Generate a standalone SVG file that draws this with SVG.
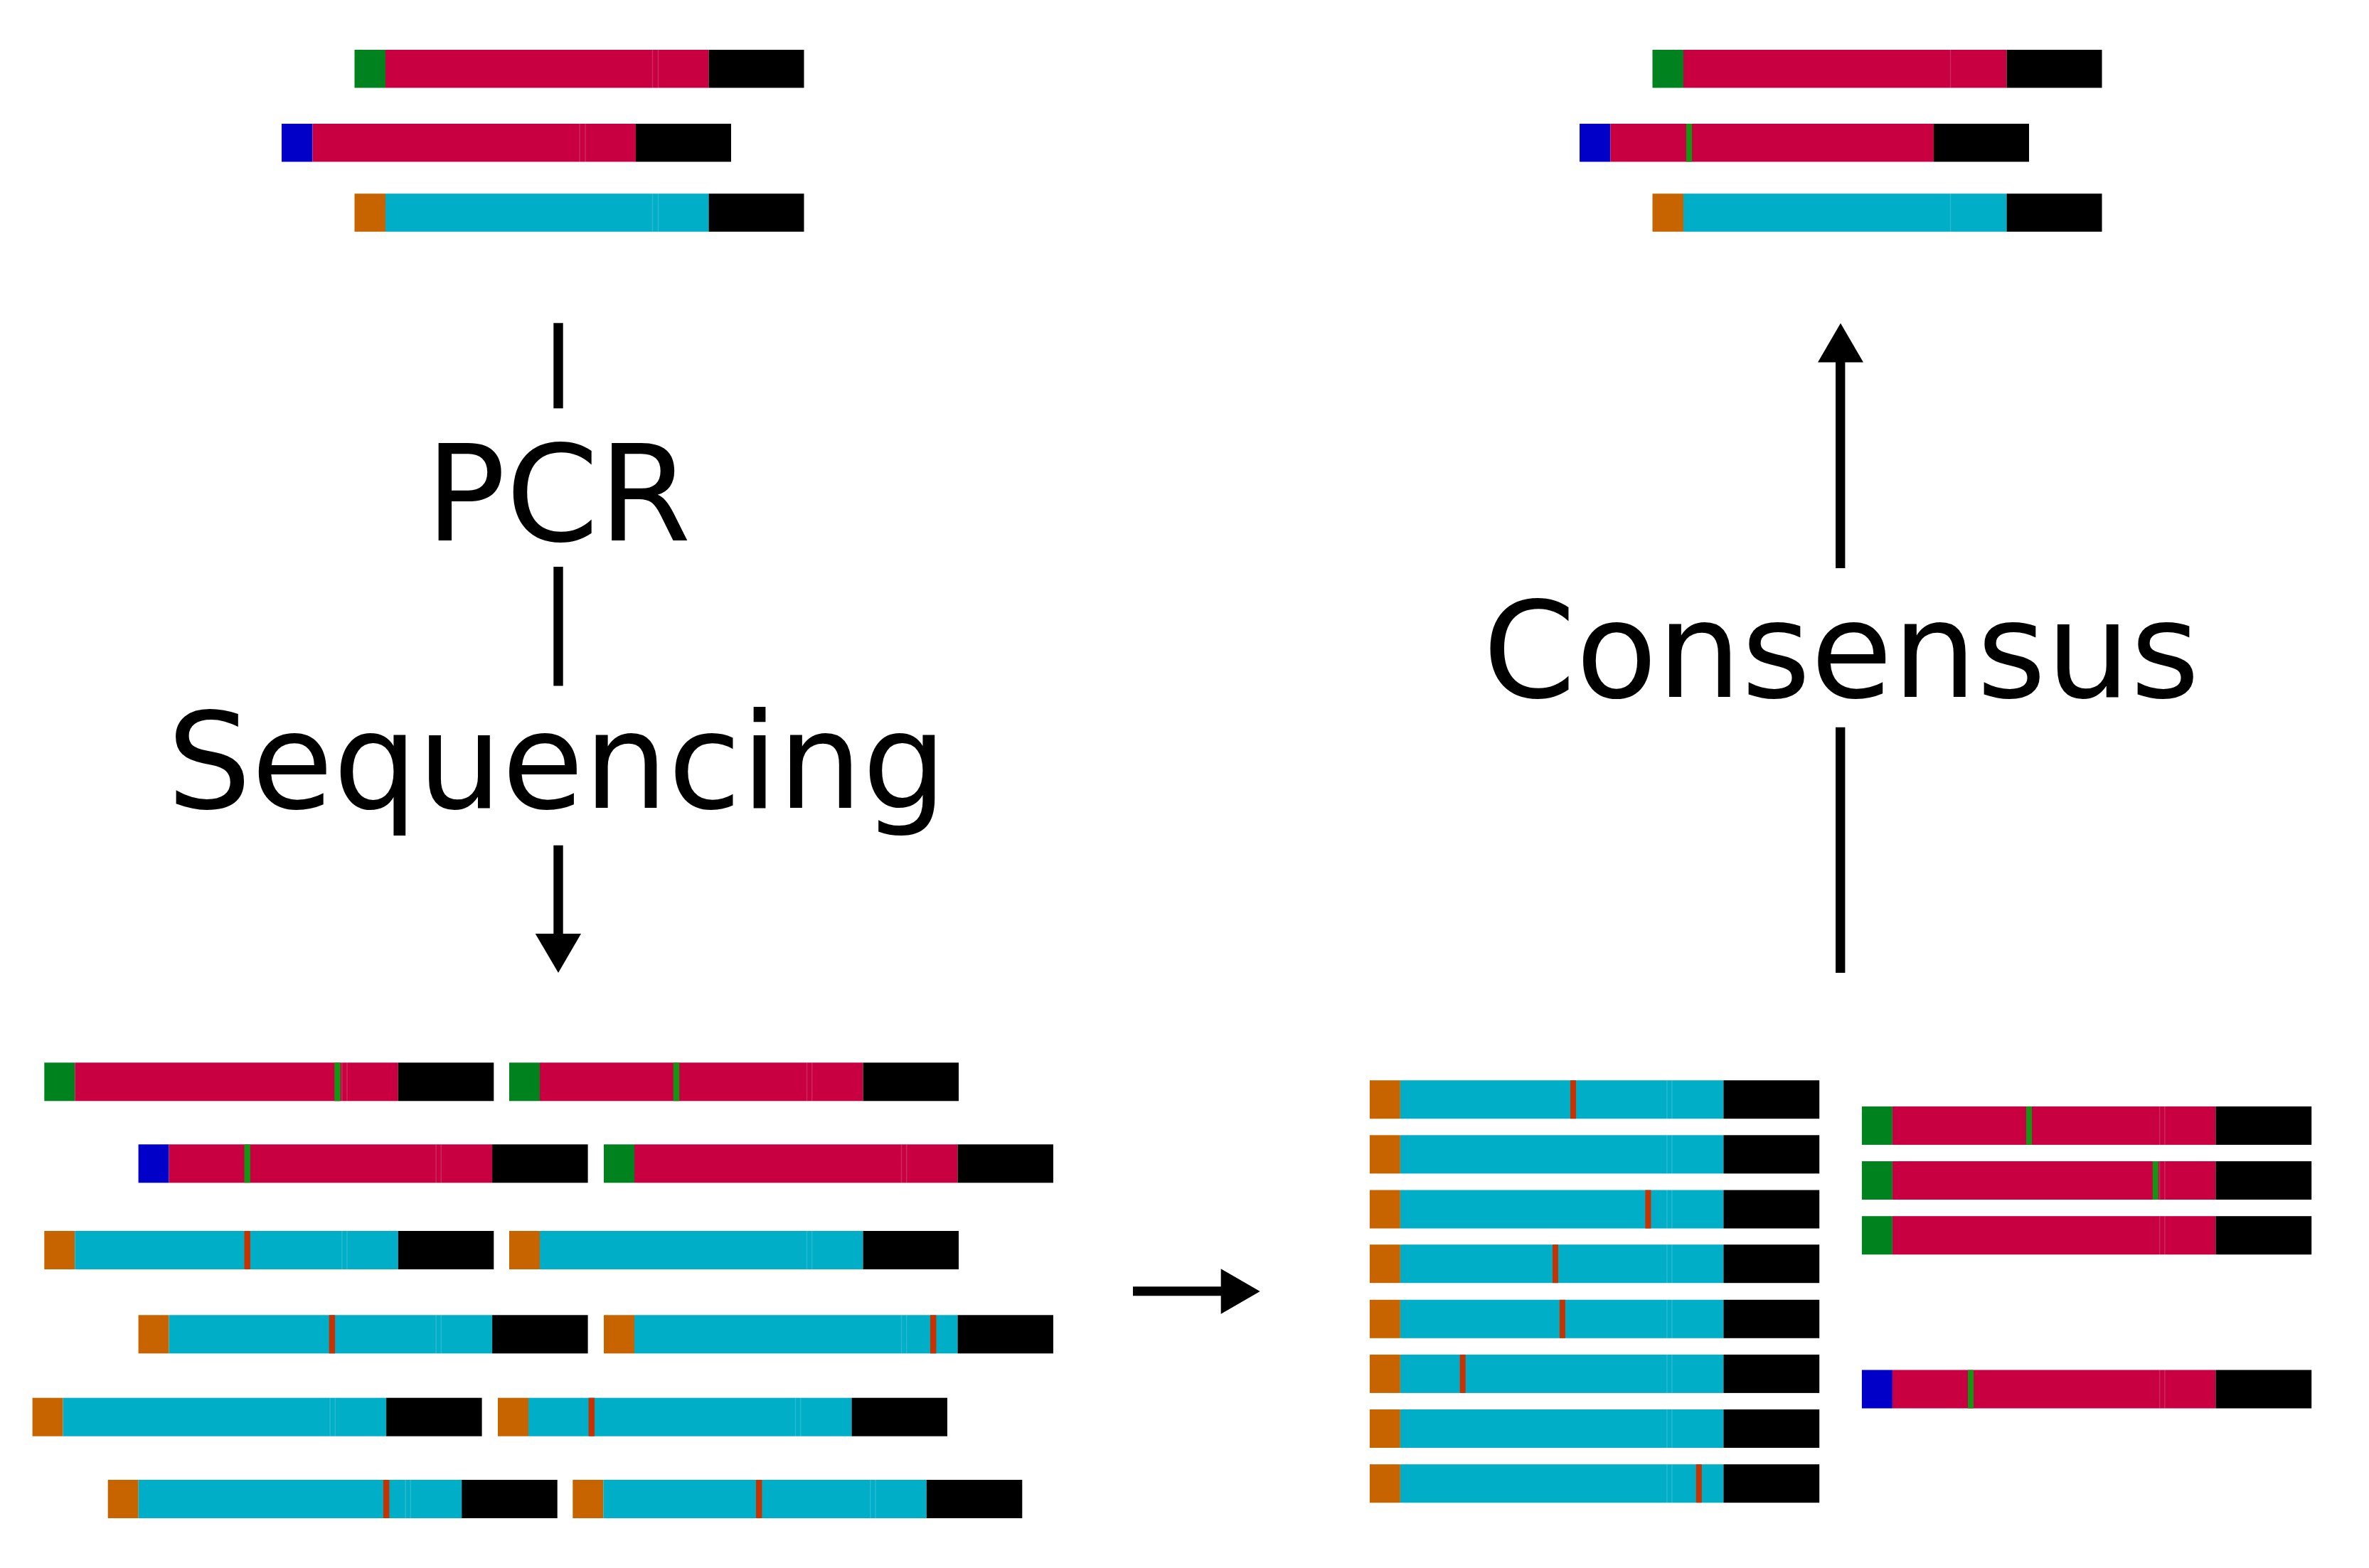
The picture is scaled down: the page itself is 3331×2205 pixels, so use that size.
<svg xmlns="http://www.w3.org/2000/svg" width="3331" height="2205" viewBox="0 0 3331 2205">
<style>
.g{fill:#00821e}.b{fill:#0000c8}.o{fill:#c86400}.r{fill:#c80042}.c{fill:#00aec8}.k{fill:#000}
.mg{fill:#149614}.mr{fill:#c83200}
.seam{stroke:#fff;stroke-opacity:0.15;stroke-width:1.5;fill:none}
.ln{stroke:#000;stroke-width:13.4;fill:none}
.hd{fill:#000}
text{font-family:"DejaVu Sans","Liberation Sans",sans-serif;font-size:187px;fill:#000;text-anchor:middle}
</style>
<rect width="3331" height="2205" fill="#fff"/>

<!-- top-left: input molecules -->
<g id="tl-1" transform="translate(498.5,70)"><rect class="g" width="43.5" height="53.5"/><rect class="r" x="43.5" width="454.5" height="53.5"/><rect class="k" x="498" width="134" height="53.5"/><path class="seam" d="M419 0v53.5M427 0v53.5"/></g>
<g id="tl-2" transform="translate(396,174)"><rect class="b" width="43.5" height="53.5"/><rect class="r" x="43.5" width="454.5" height="53.5"/><rect class="k" x="498" width="134" height="53.5"/><path class="seam" d="M419 0v53.5M427 0v53.5"/></g>
<g id="tl-3" transform="translate(498.5,272.3)"><rect class="o" width="43.5" height="53.5"/><rect class="c" x="43.5" width="454.5" height="53.5"/><rect class="k" x="498" width="134" height="53.5"/><path class="seam" d="M419 0v53.5M427 0v53.5"/></g>

<!-- top-right: consensus molecules -->
<g id="tr-1" transform="translate(2323.5,70)"><rect class="g" width="43.5" height="53.5"/><rect class="r" x="43.5" width="454.5" height="53.5"/><rect class="k" x="498" width="134" height="53.5"/><path class="seam" d="M419 0v53.5"/></g>
<g id="tr-2" transform="translate(2221,174)"><rect class="b" width="43.5" height="53.5"/><rect class="r" x="43.5" width="454.5" height="53.5"/><rect class="k" x="498" width="134" height="53.5"/><rect class="mg" x="150" width="8" height="53.5"/></g>
<g id="tr-3" transform="translate(2323.5,272.3)"><rect class="o" width="43.5" height="53.5"/><rect class="c" x="43.5" width="454.5" height="53.5"/><rect class="k" x="498" width="134" height="53.5"/><path class="seam" d="M419 0v53.5"/></g>

<!-- bottom-left: sequencing reads -->
<g id="bl-a1" transform="translate(62.3,1494.3)"><rect class="g" width="43" height="54"/><rect class="r" x="43" width="454.5" height="54"/><rect class="k" x="497.5" width="134.5" height="54"/><path class="seam" d="M418.5 0v54M425.7 0v54"/><rect class="mg" x="408" width="8.4" height="54"/></g>
<g id="bl-a2" transform="translate(716,1494.3)"><rect class="g" width="43" height="54"/><rect class="r" x="43" width="454.5" height="54"/><rect class="k" x="497.5" width="134.5" height="54"/><path class="seam" d="M418.5 0v54M425.7 0v54"/><rect class="mg" x="230.8" width="8.4" height="54"/></g>
<g id="bl-b1" transform="translate(194.6,1609.3)"><rect class="b" width="43" height="54"/><rect class="r" x="43" width="454.5" height="54"/><rect class="k" x="497.5" width="134.5" height="54"/><path class="seam" d="M418.5 0v54M425.7 0v54"/><rect class="mg" x="148.9" width="8.4" height="54"/></g>
<g id="bl-b2" transform="translate(849,1609.3)"><rect class="g" width="43" height="54"/><rect class="r" x="43" width="454.5" height="54"/><rect class="k" x="497.5" width="134.5" height="54"/><path class="seam" d="M418.5 0v54M425.7 0v54"/></g>
<g id="bl-c1" transform="translate(62.3,1731)"><rect class="o" width="43" height="54"/><rect class="c" x="43" width="454.5" height="54"/><rect class="k" x="497.5" width="134.5" height="54"/><path class="seam" d="M418.5 0v54M425.7 0v54"/><rect class="mr" x="281.2" width="8.4" height="54"/></g>
<g id="bl-c2" transform="translate(716,1731)"><rect class="o" width="43" height="54"/><rect class="c" x="43" width="454.5" height="54"/><rect class="k" x="497.5" width="134.5" height="54"/><path class="seam" d="M418.5 0v54M425.7 0v54"/></g>
<g id="bl-d1" transform="translate(194.6,1849.3)"><rect class="o" width="43" height="54"/><rect class="c" x="43" width="454.5" height="54"/><rect class="k" x="497.5" width="134.5" height="54"/><path class="seam" d="M418.5 0v54M425.7 0v54"/><rect class="mr" x="268.1" width="8.4" height="54"/></g>
<g id="bl-d2" transform="translate(849,1849.3)"><rect class="o" width="43" height="54"/><rect class="c" x="43" width="454.5" height="54"/><rect class="k" x="497.5" width="134.5" height="54"/><path class="seam" d="M418.5 0v54M425.7 0v54"/><rect class="mr" x="459" width="8.4" height="54"/></g>
<g id="bl-e1" transform="translate(45.6,1965.7)"><rect class="o" width="43" height="54"/><rect class="c" x="43" width="454.5" height="54"/><rect class="k" x="497.5" width="134.5" height="54"/><path class="seam" d="M418.5 0v54M425.7 0v54"/></g>
<g id="bl-e2" transform="translate(700,1965.7)"><rect class="o" width="43" height="54"/><rect class="c" x="43" width="454.5" height="54"/><rect class="k" x="497.5" width="134.5" height="54"/><path class="seam" d="M418.5 0v54M425.7 0v54"/><rect class="mr" x="127.6" width="8.4" height="54"/></g>
<g id="bl-f1" transform="translate(151.7,2081)"><rect class="o" width="43" height="54"/><rect class="c" x="43" width="454.5" height="54"/><rect class="k" x="497.5" width="134.5" height="54"/><path class="seam" d="M418.5 0v54M425.7 0v54"/><rect class="mr" x="387.3" width="8.4" height="54"/></g>
<g id="bl-f2" transform="translate(805.3,2081)"><rect class="o" width="43" height="54"/><rect class="c" x="43" width="454.5" height="54"/><rect class="k" x="497.5" width="134.5" height="54"/><path class="seam" d="M418.5 0v54M425.7 0v54"/><rect class="mr" x="257.7" width="8.4" height="54"/></g>

<!-- bottom-right: grouped reads -->
<g id="br-l1" transform="translate(1925.9,1519.2)"><rect class="o" width="43" height="54"/><rect class="c" x="43" width="454.5" height="54"/><rect class="k" x="497.5" width="134.8" height="54"/><path class="seam" d="M418 0v54M425 0v54"/><rect class="mr" x="282.1" width="8" height="54"/></g>
<g id="br-l2" transform="translate(1925.9,1596.3)"><rect class="o" width="43" height="54"/><rect class="c" x="43" width="454.5" height="54"/><rect class="k" x="497.5" width="134.8" height="54"/><path class="seam" d="M418 0v54M425 0v54"/></g>
<g id="br-l3" transform="translate(1925.9,1673.5)"><rect class="o" width="43" height="54"/><rect class="c" x="43" width="454.5" height="54"/><rect class="k" x="497.5" width="134.8" height="54"/><path class="seam" d="M418 0v54M425 0v54"/><rect class="mr" x="387.5" width="8" height="54"/></g>
<g id="br-l4" transform="translate(1925.9,1750.2)"><rect class="o" width="43" height="54"/><rect class="c" x="43" width="454.5" height="54"/><rect class="k" x="497.5" width="134.8" height="54"/><path class="seam" d="M418 0v54M425 0v54"/><rect class="mr" x="257.1" width="8" height="54"/></g>
<g id="br-l5" transform="translate(1925.9,1827.8)"><rect class="o" width="43" height="54"/><rect class="c" x="43" width="454.5" height="54"/><rect class="k" x="497.5" width="134.8" height="54"/><path class="seam" d="M418 0v54M425 0v54"/><rect class="mr" x="267" width="8" height="54"/></g>
<g id="br-l6" transform="translate(1925.9,1904.9)"><rect class="o" width="43" height="54"/><rect class="c" x="43" width="454.5" height="54"/><rect class="k" x="497.5" width="134.8" height="54"/><path class="seam" d="M418 0v54M425 0v54"/><rect class="mr" x="126.8" width="8" height="54"/></g>
<g id="br-l7" transform="translate(1925.9,1982)"><rect class="o" width="43" height="54"/><rect class="c" x="43" width="454.5" height="54"/><rect class="k" x="497.5" width="134.8" height="54"/><path class="seam" d="M418 0v54M425 0v54"/></g>
<g id="br-l8" transform="translate(1925.9,2059.2)"><rect class="o" width="43" height="54"/><rect class="c" x="43" width="454.5" height="54"/><rect class="k" x="497.5" width="134.8" height="54"/><path class="seam" d="M418 0v54M425 0v54"/><rect class="mr" x="458.9" width="8" height="54"/></g>

<g id="br-r1" transform="translate(2617.9,1555.9)"><rect class="g" width="43" height="54"/><rect class="r" x="43" width="454.5" height="54"/><rect class="k" x="497.5" width="134.8" height="54"/><path class="seam" d="M418.7 0v54M425.9 0v54"/><rect class="mg" x="231.1" width="8" height="54"/></g>
<g id="br-r2" transform="translate(2617.9,1633)"><rect class="g" width="43" height="54"/><rect class="r" x="43" width="454.5" height="54"/><rect class="k" x="497.5" width="134.8" height="54"/><path class="seam" d="M418.7 0v54M425.9 0v54"/><rect class="mg" x="408.9" width="8" height="54"/></g>
<g id="br-r3" transform="translate(2617.9,1710.2)"><rect class="g" width="43" height="54"/><rect class="r" x="43" width="454.5" height="54"/><rect class="k" x="497.5" width="134.8" height="54"/><path class="seam" d="M418.7 0v54M425.9 0v54"/></g>
<g id="br-r4" transform="translate(2617.9,1926.5)"><rect class="b" width="43" height="54"/><rect class="r" x="43" width="454.5" height="54"/><rect class="k" x="497.5" width="134.8" height="54"/><path class="seam" d="M418.7 0v54M425.9 0v54"/><rect class="mg" x="149.1" width="8" height="54"/></g>

<!-- labels -->
<g id="label-pcr"><text x="785" y="760">PCR</text></g>
<g id="label-sequencing"><text x="783" y="1136">Sequencing</text></g>
<g id="label-consensus"><text x="2589" y="980">Consensus</text></g>

<!-- connectors -->
<g id="connectors">
<line class="ln" x1="785" y1="454.2" x2="785" y2="574.2"/>
<line class="ln" x1="785" y1="797" x2="785" y2="964.5"/>
<line class="ln" x1="785" y1="1188.8" x2="785" y2="1314"/>
<polygon class="hd" points="752.7,1313 817,1313 785,1368"/>

<line class="ln" x1="2587.7" y1="1368" x2="2587.7" y2="1022.7"/>
<line class="ln" x1="2587.7" y1="799" x2="2587.7" y2="508.6"/>
<polygon class="hd" points="2556,509.6 2620,509.6 2588,454.5"/>

<line class="ln" x1="1593" y1="1815.8" x2="1717.7" y2="1815.8" style="stroke-width:13"/>
<polygon class="hd" points="1716.7,1784.3 1716.7,1847.7 1771.7,1816"/>
</g>
</svg>
